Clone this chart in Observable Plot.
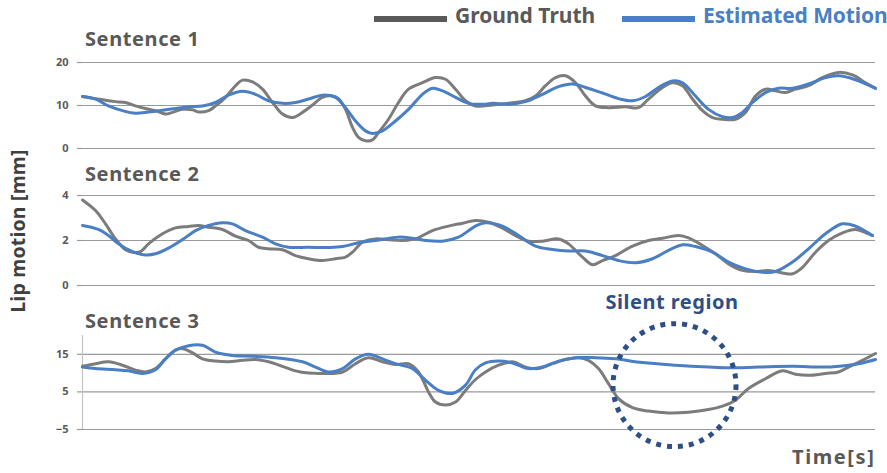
<!DOCTYPE html>
<html>
<head>
<meta charset="utf-8">
<script src="https://cdn.jsdelivr.net/npm/d3@7"></script>
<script src="https://cdn.jsdelivr.net/npm/@observablehq/plot@0.6"></script>
<style>
  html, body { margin: 0; padding: 0; background: #fff; }
  #chart { position: relative; width: 887px; height: 473px; font-family: "Noto Sans", "Open Sans", sans-serif; font-weight: 700; }
  #chart svg { position: absolute; left: 0; }
  .lbl { position: absolute; white-space: nowrap; line-height: 1; }
</style>
</head>
<body>
<div id="chart"></div>
<script>
// ---- data (time in frames, value in mm) ----
const sentences = ["Sentence 1", "Sentence 2", "Sentence 3"];
const seriesNames = ["Ground Truth", "Estimated Motion"];

const truth1 = [[0,12.1],[13,11.6],[23,11.2],[33,10.9],[43,10.7],[53,9.9],[63,9.3],[73,8.8],[83,8.0],[90,8.4],[100,9.1],[110,9.0],[116,8.5],[126,8.8],[133,9.9],[143,11.9],[153,14.6],[160,15.9],[170,15.5],[180,13.8],[190,10.7],[200,8.0],[210,7.2],[220,8.4],[230,10.1],[240,11.9],[250,12.2],[256,11.6],[263,9.1],[270,4.9],[276,2.6],[283,1.8],[290,2.0],[296,3.7],[306,6.8],[316,10.7],[326,13.8],[340,15.3],[353,16.5],[363,16.1],[373,13.8],[383,11.1],[393,9.9],[410,10.1],[426,10.5],[443,11.1],[453,12.2],[463,14.6],[473,16.5],[483,16.9],[493,15.3],[503,12.2],[513,9.9],[526,9.5],[543,9.7],[556,9.5],[566,11.5],[580,14.2],[590,15.3],[600,14.6],[610,11.5],[620,8.8],[630,7.2],[640,6.8],[653,6.8],[663,8.4],[673,12.2],[683,13.8],[693,13.4],[703,13.0],[713,13.8],[726,14.6],[740,16.5],[756,17.7],[770,17.1],[783,15.3],[793,14.0]];
const est1 = [[0,12.1],[13,11.5],[26,9.9],[40,8.8],[53,8.2],[66,8.5],[80,8.9],[93,9.3],[106,9.7],[120,9.9],[133,10.7],[146,12.4],[160,13.3],[173,12.6],[186,11.1],[200,10.5],[213,10.7],[226,11.5],[240,12.4],[253,11.9],[263,9.5],[273,6.4],[283,4.1],[290,3.5],[300,4.1],[313,6.4],[326,9.1],[340,12.6],[350,14.0],[360,13.4],[373,11.9],[386,10.5],[403,10.3],[410,10.5],[426,10.3],[443,10.9],[460,12.6],[476,14.4],[490,15.0],[503,14.2],[520,12.9],[536,11.6],[550,11.1],[563,12.1],[576,14.2],[590,15.7],[600,15.3],[613,12.2],[626,9.1],[640,7.4],[650,7.2],[660,8.4],[670,10.7],[683,13.0],[696,14.0],[710,14.0],[726,15.0],[743,16.5],[756,16.9],[773,16.0],[793,14.0]];

const truth2 = [[0,3.8],[13,3.33],[23,2.74],[33,2.07],[43,1.59],[50,1.48],[58,1.51],[66,1.85],[80,2.30],[93,2.56],[106,2.62],[116,2.67],[126,2.59],[140,2.49],[153,2.19],[166,2.0],[176,1.70],[186,1.63],[200,1.59],[213,1.33],[226,1.19],[240,1.11],[253,1.19],[263,1.26],[270,1.48],[280,1.93],[293,2.07],[306,2.03],[320,2.0],[333,2.07],[350,2.44],[366,2.64],[380,2.77],[393,2.89],[406,2.81],[420,2.55],[433,2.22],[446,1.97],[460,1.97],[476,2.07],[486,1.85],[500,1.26],[510,0.92],[520,1.11],[533,1.33],[550,1.75],[566,2.0],[580,2.10],[596,2.22],[606,2.12],[620,1.78],[633,1.41],[646,0.96],[660,0.67],[673,0.62],[686,0.67],[700,0.56],[710,0.52],[720,0.81],[733,1.48],[746,2.0],[760,2.34],[773,2.49],[783,2.35],[790,2.22]];
const est2 = [[0,2.67],[16,2.49],[26,2.22],[36,1.85],[50,1.51],[63,1.36],[73,1.41],[86,1.66],[100,2.04],[113,2.44],[126,2.67],[140,2.79],[150,2.74],[163,2.44],[180,2.15],[193,1.85],[206,1.70],[226,1.70],[246,1.69],[260,1.73],[276,1.90],[293,2.0],[316,2.15],[330,2.10],[343,2.0],[360,1.97],[376,2.15],[393,2.64],[403,2.79],[420,2.64],[436,2.22],[453,1.75],[470,1.60],[486,1.53],[503,1.53],[520,1.33],[536,1.11],[553,1.01],[570,1.19],[586,1.56],[600,1.81],[613,1.73],[630,1.48],[646,1.04],[663,0.74],[680,0.59],[693,0.62],[710,1.04],[726,1.63],[743,2.30],[760,2.74],[773,2.64],[790,2.22]];

const truth3 = [[0,11.8],[13,12.5],[26,13.0],[40,12.1],[53,10.8],[63,10.3],[73,11.2],[83,13.8],[93,16.1],[100,16.5],[110,15.4],[120,13.8],[133,13.2],[146,13.0],[160,13.4],[173,13.6],[186,13.0],[200,11.8],[213,10.6],[226,10.0],[243,9.9],[260,10.3],[273,12.5],[286,14.1],[300,13.0],[313,12.3],[326,12.5],[336,10.3],[346,5.0],[353,2.3],[363,1.5],[373,2.3],[383,5.4],[393,8.3],[403,10.3],[416,12.1],[430,13.0],[443,11.6],[456,11.2],[470,12.5],[483,13.6],[496,14.1],[506,13.4],[516,11.2],[526,7.2],[536,3.2],[550,0.8],[566,-0.1],[586,-0.6],[606,-0.4],[626,0.3],[640,1.2],[653,2.8],[666,5.9],[683,8.5],[700,10.6],[713,9.7],[726,9.4],[743,9.9],[756,10.3],[766,11.6],[780,13.4],[793,15.2]];
const est3 = [[0,11.6],[13,11.2],[33,10.9],[46,10.6],[60,9.9],[73,10.9],[83,13.8],[93,16.1],[106,17.3],[120,17.4],[133,15.6],[150,14.7],[170,14.5],[193,14.1],[220,13.0],[233,11.6],[246,10.3],[260,11.2],[273,13.8],[286,15.0],[300,13.8],[313,12.5],[330,11.2],[343,8.1],[356,5.4],[370,4.6],[383,6.8],[393,10.9],[403,12.7],[416,13.2],[430,12.7],[446,11.2],[460,11.6],[476,13.2],[493,14.1],[513,14.1],[533,13.8],[560,12.8],[593,12.1],[626,11.6],[646,11.4],[676,11.6],[710,11.8],[743,11.6],[766,12.1],[780,12.7],[793,13.6]];

const ticks1 = [0, 10, 20];
const ticks2 = [0, 2, 4];
const ticks3 = [-5, 5, 15];
const silentRegion = [{t: 592, v: 6.8, label: "Silent region"}];

// ---- styles ----
const GRAY = "#7c7c7c", BLUE = "#4a7fc4", GRID = "#9a9a9a", TXT = "#595959", DARKBLUE = "#2e4f86";
const chart = document.getElementById("chart");

function panel(truth, est, domain, ticks, top, height, mt, mb, extra = [], showAxisLine = false) {
  const marks = [
    Plot.gridY(ticks, {stroke: GRID, strokeOpacity: 1, strokeWidth: 1.2}),
    Plot.axisY(ticks, {tickSize: 5, tickPadding: 9, stroke: GRID, strokeWidth: 1.2, fill: TXT, fontSize: 11, fontWeight: 700, label: null}),
  ];
  if (showAxisLine) marks.push(Plot.ruleX([0], {stroke: "#c4c4c4", strokeWidth: 1.2}));
  marks.push(
    Plot.line(truth, {x: d => d[0], y: d => d[1], curve: "catmull-rom", stroke: GRAY, strokeWidth: 3}),
    Plot.line(est, {x: d => d[0], y: d => d[1], curve: "catmull-rom", stroke: BLUE, strokeWidth: 3}),
    ...extra
  );
  const svg = Plot.plot({
    width: 887, height,
    marginLeft: 82, marginRight: 12, marginTop: mt, marginBottom: mb,
    x: {domain: [0, 793], axis: null},
    y: {domain, axis: null},
    style: {background: "transparent", overflow: "visible", fontFamily: "'Noto Sans', sans-serif"},
    marks
  });
  svg.style.top = top + "px";
  chart.appendChild(svg);
}

panel(truth1, est1, [0, 20], ticks1, 50, 110, 12, 12);
panel(truth2, est2, [0, 4], ticks2, 185, 110, 10, 10);
panel(truth3, est3, [-5, 20], ticks3, 325, 148, 10, 44, [
  Plot.dot(silentRegion, {x: "t", y: "v", r: 61.5, fill: "none", stroke: DARKBLUE, strokeWidth: 5, strokeDasharray: "5 6"})
], true);

// ---- text ----
function label(text, css) {
  const d = document.createElement("div");
  d.className = "lbl";
  d.textContent = text;
  Object.assign(d.style, css);
  chart.appendChild(d);
  return d;
}
label(sentences[0], {left: "85px", top: "29px", fontSize: "20px", letterSpacing: "0.6px", color: TXT});
label(sentences[1], {left: "85px", top: "164px", fontSize: "20px", letterSpacing: "0.6px", color: TXT});
label(sentences[2], {left: "85px", top: "311px", fontSize: "20px", letterSpacing: "0.6px", color: TXT});

// legend
const lg1 = document.createElement("div");
Object.assign(lg1.style, {position: "absolute", left: "374px", top: "16px", width: "73px", height: "6px", background: "#595959"});
chart.appendChild(lg1);
label(seriesNames[0], {left: "455px", top: "5px", fontSize: "21px", color: TXT});
const lg2 = document.createElement("div");
Object.assign(lg2.style, {position: "absolute", left: "622px", top: "16px", width: "73px", height: "6px", background: BLUE});
chart.appendChild(lg2);
label(seriesNames[1], {left: "703px", top: "5px", fontSize: "21px", letterSpacing: "-0.1px", color: BLUE});

// y label
label("Lip motion [mm]", {left: "18px", top: "231px", fontSize: "19.5px", letterSpacing: "0.2px", color: "#404040", transform: "translate(-50%, -50%) rotate(-90deg)"});
// x label
label("Time[s]", {left: "792px", top: "447px", fontSize: "20px", letterSpacing: "1.6px", color: TXT});
// silent region label
label(silentRegion[0].label, {left: "672px", top: "292px", fontSize: "20px", letterSpacing: "0.5px", color: DARKBLUE, transform: "translateX(-50%)"});
</script>
</body>
</html>
